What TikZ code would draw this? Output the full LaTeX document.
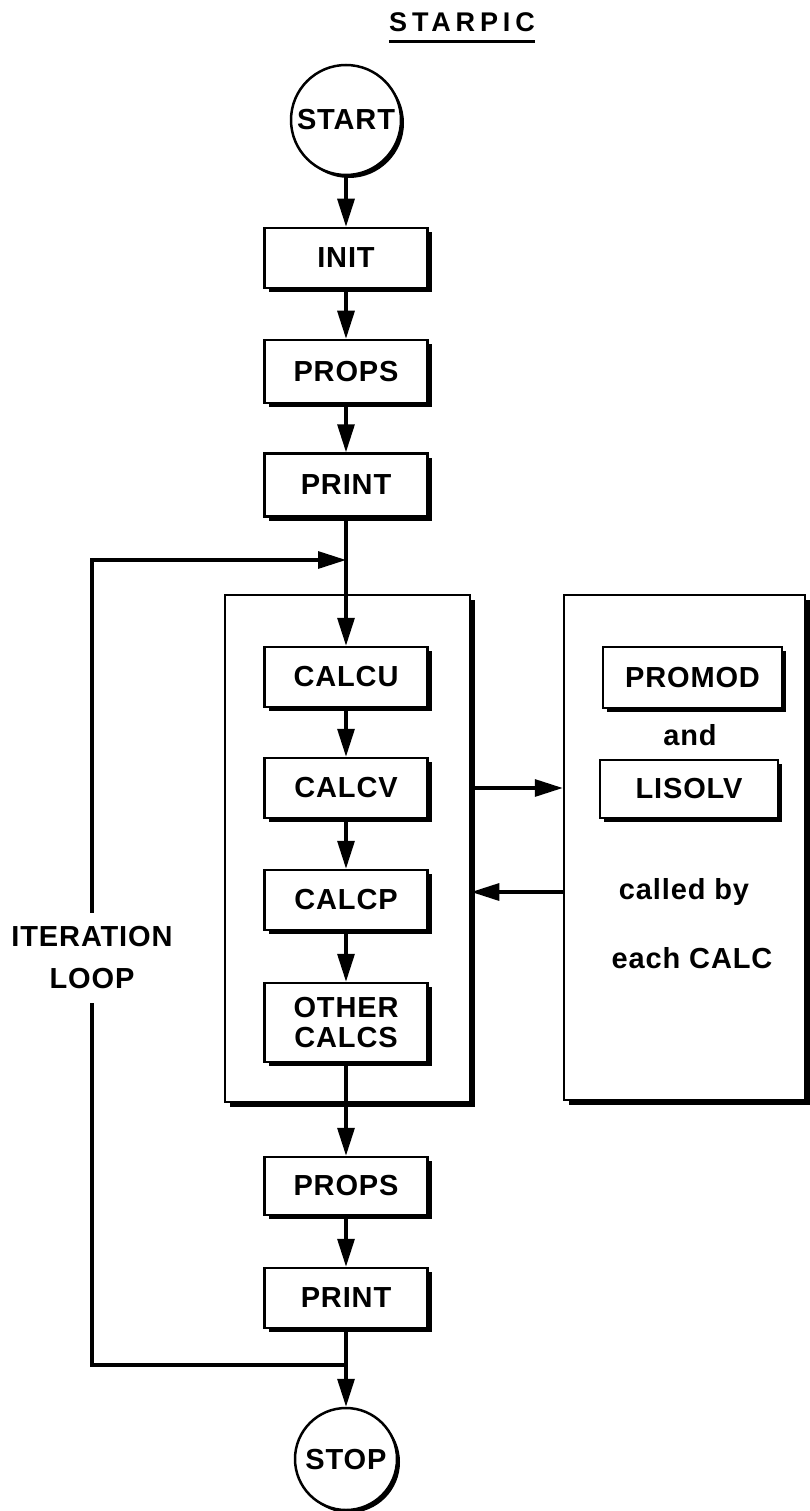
\documentclass[tikz,border=0pt]{standalone}
\usepackage{fontspec}
\setmainfont{Liberation Sans}
\newfontfamily\spfont{Liberation Sans}[LetterSpace=3]
\newfontfamily\sptitlefont{Liberation Sans}[LetterSpace=18]
\usetikzlibrary{arrows.meta,positioning,shadows}
\tikzset{
  spbox/.style  ={rectangle, draw=black, fill=white, line width=2.5pt,
                  minimum width=163pt, minimum height=60pt, inner sep=2pt,
                  align=center, font=\spfont\bfseries\fontsize{29}{30}\selectfont,
                  drop shadow={shadow xshift=4pt, shadow yshift=-4pt, opacity=1, fill=black}},
  spround/.style={circle, draw=black, fill=white, line width=2.5pt, inner sep=1pt,
                  font=\spfont\bfseries\fontsize{29}{30}\selectfont,
                  drop shadow={shadow xshift=3pt, shadow yshift=-3pt, opacity=1, fill=black}},
  spframe/.style={rectangle, draw=black, fill=white, line width=2.5pt,
                  drop shadow={shadow xshift=5pt, shadow yshift=-5pt, opacity=1, fill=black}},
  splbl/.style  ={inner sep=0pt, align=center,
                  font=\spfont\bfseries\fontsize{29}{30}\selectfont},
  sptitle/.style={inner sep=0pt, font=\sptitlefont\bfseries\fontsize{27}{30}\selectfont},
  spline/.style ={line width=3.2pt, draw=black},
  sparrow/.style={-{Triangle[length=28pt,width=17pt]}, line width=3.2pt, draw=black},
}

\begin{document}
\begin{tikzpicture}[x=1pt, y=1pt]
  \useasboundingbox (0,0) rectangle (810,-1511);
  \node[sptitle] (title) at (462,-22.5) {STARPIC};
  \draw[line width=3.5pt] ([yshift=-9pt]title.south west) -- ([yshift=-9pt]title.south east);

  \node[spframe, minimum width=245pt, minimum height=507pt] (calcs) at (347.5,-848.5) {};
  \node[spframe, minimum width=241pt, minimum height=505pt] (libs) at (684.5,-847.5) {};

  \node[spround, minimum size=110pt] (start) at (346,-120) {START};
  \node[spbox] (init)   at (346,-258)  {INIT};
  \node[spbox, minimum height=63pt] (props1) at (346,-371.5) {PROPS};
  \node[spbox, minimum height=63pt] (print1) at (346,-485) {PRINT};
  \node[spbox] (calcu)  at (346,-677)  {CALCU};
  \node[spbox] (calcv)  at (346,-788)  {CALCV};
  \node[spbox] (calcp)  at (346,-900)  {CALCP};
  \node[spbox, minimum height=79pt] (other) at (346,-1022.5) {OTHER\\CALCS};
  \node[spbox, minimum height=58pt] (props2) at (346,-1186) {PROPS};
  \node[spbox] (print2) at (346,-1298) {PRINT};
  \node[spround, minimum size=102pt] (stop) at (346,-1459) {STOP};

  \node[spbox, minimum width=179pt, minimum height=61pt] (promod) at (692.5,-677.5) {PROMOD};
  \node[splbl] (and) at (690,-735) {and};
  \node[spbox, minimum width=178pt, minimum height=58pt] (lisolv) at (689,-789) {LISOLV};
  \node[splbl] (called) at (684,-892) {called by};
  \node[splbl] (each) at (692,-958) {each CALC};

  \node[splbl, fill=white, inner ysep=14pt, font=\spfont\bfseries\fontsize{29}{42}\selectfont]
       (iter) at (92,-958) {ITERATION\\LOOP};

  \foreach \a/\b in {start/init, init/props1, props1/print1, print1/calcu,
                     calcu/calcv, calcv/calcp, calcp/other, other/props2,
                     props2/print2, print2/stop}
    \draw[sparrow] (\a) -- (\b);

  \coordinate (jtop) at (346,-560);
  \coordinate (jbot) at (346,-1365);
  \draw[spline] (jbot) -| (iter.south);
  \draw[sparrow] (iter.north) |- (jtop);

  \draw[sparrow] (calcs.east |- calcv) -- (libs.west |- calcv);
  \draw[sparrow] (libs.west |- called) -- (calcs.east |- called);
\end{tikzpicture}
\end{document}
